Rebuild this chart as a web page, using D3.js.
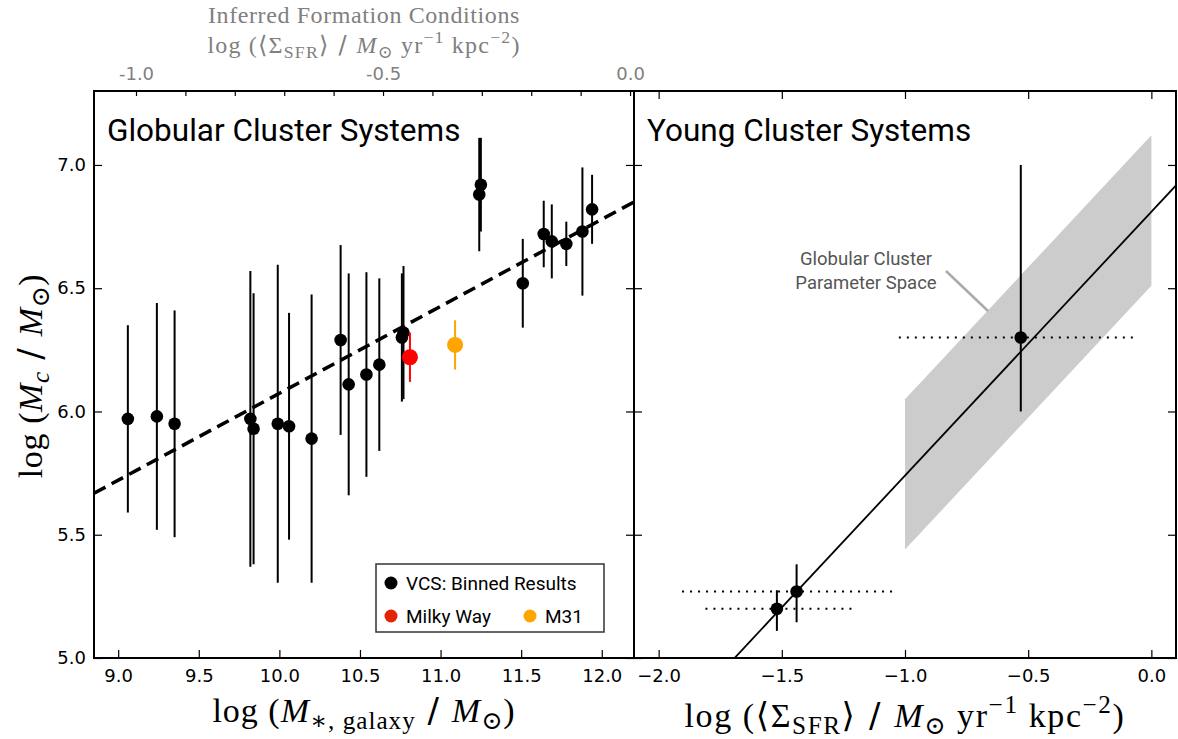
<!DOCTYPE html>
<html>
<head>
<meta charset="utf-8">
<script src="https://cdn.jsdelivr.net/npm/d3@7"></script>
<style>
  html, body { margin: 0; padding: 0; background: #fff; }
  svg { display: block; }
</style>
</head>
<body>
<svg id="chart" width="1178" height="739"></svg>
<script>
// ---- Globular cluster systems (binned VCS results) ----
const gcMass   = [9.06, 9.24, 9.35, 9.82, 9.84, 9.99, 10.06, 10.20, 10.38, 10.43, 10.54, 10.62,
                  10.76, 10.77, 11.24, 11.25, 11.51, 11.64, 11.69, 11.78, 11.88, 11.94];
const gcLogMc  = [5.97, 5.98, 5.95, 5.97, 5.93, 5.95, 5.94, 5.89, 6.29, 6.11, 6.15, 6.19,
                  6.30, 6.32, 6.88, 6.92, 6.52, 6.72, 6.69, 6.68, 6.73, 6.82];
const gcErr    = [0.38, 0.46, 0.46, 0.60, 0.55, 0.645, 0.46, 0.585, 0.385, 0.45, 0.415, 0.35,
                  0.26, 0.27, 0.23, 0.19, 0.18, 0.135, 0.15, 0.09, 0.26, 0.14];

// Local galaxies
const localNames = ["Milky Way", "M31"];
const localMass  = [10.81, 11.09];
const localLogMc = [6.22, 6.27];
const localErr   = [0.10, 0.10];

// Dashed relation across the mass range
const gcFitX = [8.85, 12.2];
const gcFitY = [5.668, 6.85];

// ---- Young cluster systems ----
const ycSfr    = [-1.52, -1.44, -0.53];
const ycSfrLo  = [-1.81, -1.905, -1.025];
const ycSfrHi  = [-1.20, -1.05, -0.075];
const ycLogMc  = [5.20, 5.27, 6.30];
const ycMcLo   = [5.11, 5.145, 6.00];
const ycMcHi   = [5.275, 5.38, 7.00];

// Young cluster relation: log Mc = intercept + slope * log SFR
const ycFitIntercept = 6.81;
const ycFitSlope = 1.07;

// Globular-cluster parameter space band
const bandX  = [-1.0, 0.0];
const bandLo = [5.44, 6.51];
const bandHi = [6.05, 7.12];

// Tick labels
const yTicks       = [5.0, 5.5, 6.0, 6.5, 7.0];
const massTicks    = [9.0, 9.5, 10.0, 10.5, 11.0, 11.5, 12.0];
const sfrTicks     = [-2.0, -1.5, -1.0, -0.5, 0.0];
const topTicks     = [-1.0, -0.9, -0.8, -0.7, -0.6, -0.5, -0.4, -0.3, -0.2, -0.1, 0.0];
const topTickLabels = [-1.0, -0.5, 0.0];

// ---- layout ----
const svg = d3.select("#chart");
const plotTop = 91, plotBottom = 658;
const leftL = 94, rightL = 634, leftR = 634, rightR = 1176;

const y  = d3.scaleLinear().domain([5.0, 7.3]).range([plotBottom, plotTop]);
const xL = d3.scaleLinear().domain([8.85, 12.2]).range([leftL, rightL]);
const xT = d3.scaleLinear().domain([-1.085, 0.008]).range([leftL, rightL]);
const xR = d3.scaleLinear().domain([-2.1, 0.1]).range([leftR, rightR]);

const tickFont = "'DejaVu Sans', 'Bitstream Vera Sans', sans-serif";
const serif = "'Liberation Serif', 'DejaVu Serif', serif";
const titleFont = "Roboto, 'Open Sans', sans-serif";

function styleAxis(g, color) {
  g.select(".domain").remove();
  g.selectAll(".tick line").attr("stroke", "#000").attr("stroke-width", 1.2);
  g.selectAll(".tick text").attr("font-family", tickFont).attr("font-size", 18)
    .attr("fill", color || "#000");
}

// Math-style label built from tspans
function mathLabel(parent, x, yPos, parts, size, color, rotate, spacing) {
  const t = parent.append("text")
    .attr("x", x).attr("y", yPos)
    .attr("text-anchor", "middle")
    .attr("font-family", serif)
    .attr("font-size", size)
    .attr("letter-spacing", spacing || 0)
    .attr("fill", color || "#000");
  if (rotate) t.attr("transform", `rotate(-90,${x},${yPos})`);
  let shift = 0;
  parts.forEach(p => {
    const s = t.append("tspan").text(p.t);
    let target = 0;
    if (p.sub) target = size * 0.22;
    if (p.sup) target = -size * 0.4;
    s.attr("dy", target - shift);
    shift = target;
    if (p.sub || p.sup) s.attr("font-size", size * 0.74);
    if (p.i) s.attr("font-style", "italic");
    if (p.f) s.attr("font-family", p.f);
  });
  return t;
}

// ---- clip paths ----
const defs = svg.append("defs");
defs.append("clipPath").attr("id", "clipL").append("rect")
  .attr("x", leftL).attr("y", plotTop).attr("width", rightL - leftL).attr("height", plotBottom - plotTop);
defs.append("clipPath").attr("id", "clipR").append("rect")
  .attr("x", leftR).attr("y", plotTop).attr("width", rightR - leftR).attr("height", plotBottom - plotTop);

// =================== LEFT PANEL ===================
const gL = svg.append("g");
const plotL = gL.append("g").attr("clip-path", "url(#clipL)");

// dashed relation
plotL.append("line")
  .attr("x1", xL(gcFitX[0])).attr("y1", y(gcFitY[0]))
  .attr("x2", xL(gcFitX[1])).attr("y2", y(gcFitY[1]))
  .attr("stroke", "#000").attr("stroke-width", 3.5).attr("stroke-dasharray", "13,7");

// error bars
gcMass.forEach((m, i) => {
  plotL.append("line")
    .attr("x1", xL(m)).attr("x2", xL(m))
    .attr("y1", y(gcLogMc[i] - gcErr[i])).attr("y2", y(gcLogMc[i] + gcErr[i]))
    .attr("stroke", "#000").attr("stroke-width", 2);
});
gcMass.forEach((m, i) => {
  plotL.append("circle").attr("cx", xL(m)).attr("cy", y(gcLogMc[i])).attr("r", 6.3).attr("fill", "#000");
});

const localColors = ["#ff0000", "#ffa500"];
localMass.forEach((m, i) => {
  plotL.append("line")
    .attr("x1", xL(m)).attr("x2", xL(m))
    .attr("y1", y(localLogMc[i] - localErr[i])).attr("y2", y(localLogMc[i] + localErr[i]))
    .attr("stroke", localColors[i]).attr("stroke-width", 2);
  plotL.append("circle").attr("cx", xL(m)).attr("cy", y(localLogMc[i])).attr("r", 8).attr("fill", localColors[i]);
});

// axes (left panel)
gL.append("g").attr("transform", `translate(0,${plotBottom})`)
  .call(d3.axisBottom(xL).tickValues(massTicks).tickSize(-8).tickPadding(11).tickFormat(d3.format(".1f")))
  .call(g => styleAxis(g));
gL.append("g").attr("transform", `translate(${leftL},0)`)
  .call(d3.axisLeft(y).tickValues(yTicks).tickSize(-8).tickPadding(8).tickFormat(d3.format(".1f")))
  .call(g => styleAxis(g));
gL.append("g").attr("transform", `translate(${rightL},0)`)
  .call(d3.axisRight(y).tickValues(yTicks).tickSize(-8).tickFormat(""))
  .call(g => styleAxis(g));
gL.append("g").attr("transform", `translate(0,${plotTop})`)
  .call(d3.axisTop(xT).tickValues(topTicks).tickSize(-5).tickPadding(11)
    .tickFormat(d => topTickLabels.some(v => Math.abs(v - d) < 1e-9) ? d.toFixed(1) : ""))
  .call(g => styleAxis(g, "#808080"));

gL.append("rect").attr("x", leftL).attr("y", plotTop).attr("width", rightL - leftL).attr("height", plotBottom - plotTop)
  .attr("fill", "none").attr("stroke", "#000").attr("stroke-width", 2);

gL.append("text").attr("x", 107).attr("y", 141)
  .attr("font-family", titleFont).attr("font-size", 31.5).attr("fill", "#000")
  .text("Globular Cluster Systems");

// legend
const lg = gL.append("g");
lg.append("rect").attr("x", 376).attr("y", 564).attr("width", 228).attr("height", 68)
  .attr("fill", "#fff").attr("stroke", "#333").attr("stroke-width", 1.5);
const legendItems = [
  { label: "VCS: Binned Results", color: "#000", x: 391, y: 583 },
  { label: localNames[0], color: "#e22400", x: 391, y: 616 },
  { label: localNames[1], color: "#ffa500", x: 530, y: 616 }
];
legendItems.forEach(d => {
  lg.append("circle").attr("cx", d.x).attr("cy", d.y).attr("r", 6.5).attr("fill", d.color);
  lg.append("text").attr("x", d.x + 15).attr("y", d.y + 7)
    .attr("font-family", titleFont).attr("font-size", 19).attr("fill", "#000").text(d.label);
});

// =================== RIGHT PANEL ===================
const gR = svg.append("g");
const plotR = gR.append("g").attr("clip-path", "url(#clipR)");

// parameter-space band
const bandPts = [
  [bandX[0], bandLo[0]], [bandX[1], bandLo[1]], [bandX[1], bandHi[1]], [bandX[0], bandHi[0]]
];
plotR.append("path")
  .attr("d", d3.line().x(d => xR(d[0])).y(d => y(d[1]))(bandPts) + "Z")
  .attr("fill", "#cccccc");

// fitted relation
const fitXs = xR.domain();
plotR.append("line")
  .attr("x1", xR(fitXs[0])).attr("y1", y(ycFitIntercept + ycFitSlope * fitXs[0]))
  .attr("x2", xR(fitXs[1])).attr("y2", y(ycFitIntercept + ycFitSlope * fitXs[1]))
  .attr("stroke", "#000").attr("stroke-width", 1.8);

// error bars
ycSfr.forEach((s, i) => {
  plotR.append("line")
    .attr("x1", xR(ycSfrLo[i])).attr("x2", xR(ycSfrHi[i]))
    .attr("y1", y(ycLogMc[i])).attr("y2", y(ycLogMc[i]))
    .attr("stroke", "#000").attr("stroke-width", 2).attr("stroke-dasharray", "2,6");
  plotR.append("line")
    .attr("x1", xR(s)).attr("x2", xR(s))
    .attr("y1", y(ycMcLo[i])).attr("y2", y(ycMcHi[i]))
    .attr("stroke", "#000").attr("stroke-width", 2);
  plotR.append("circle").attr("cx", xR(s)).attr("cy", y(ycLogMc[i])).attr("r", 6.3).attr("fill", "#000");
});

// annotation
gR.append("line").attr("x1", 946).attr("y1", 271).attr("x2", 988).attr("y2", 311)
  .attr("stroke", "#aaaaaa").attr("stroke-width", 2.5);
const ann = gR.append("text").attr("x", 866).attr("y", 265)
  .attr("text-anchor", "middle").attr("font-family", titleFont).attr("font-size", 18.5).attr("fill", "#555");
ann.append("tspan").attr("x", 866).attr("dy", 0).text("Globular Cluster");
ann.append("tspan").attr("x", 866).attr("dy", 23.5).text("Parameter Space");

// axes (right panel)
gR.append("g").attr("transform", `translate(0,${plotBottom})`)
  .call(d3.axisBottom(xR).tickValues(sfrTicks).tickSize(-8).tickPadding(11).tickFormat(d3.format(".1f")))
  .call(g => styleAxis(g));
gR.append("g").attr("transform", `translate(0,${plotTop})`)
  .call(d3.axisTop(xR).tickValues(sfrTicks).tickSize(-8).tickFormat(""))
  .call(g => styleAxis(g));
gR.append("g").attr("transform", `translate(${leftR},0)`)
  .call(d3.axisLeft(y).tickValues(yTicks).tickSize(-8).tickFormat(""))
  .call(g => styleAxis(g));
gR.append("g").attr("transform", `translate(${rightR},0)`)
  .call(d3.axisRight(y).tickValues(yTicks).tickSize(-8).tickFormat(""))
  .call(g => styleAxis(g));

gR.append("rect").attr("x", leftR).attr("y", plotTop).attr("width", rightR - leftR).attr("height", plotBottom - plotTop)
  .attr("fill", "none").attr("stroke", "#000").attr("stroke-width", 2);

gR.append("text").attr("x", 647).attr("y", 141)
  .attr("font-family", titleFont).attr("font-size", 31.5).attr("fill", "#000")
  .text("Young Cluster Systems");

// =================== AXIS TITLES ===================
const slash = "'DejaVu Sans', sans-serif";
mathLabel(svg, 42, 376, [
  { t: "log (" }, { t: "M", i: true }, { t: "c", i: true, sub: true },
  { t: " / ", f: slash }, { t: "M", i: true }, { t: "⊙", sub: true }, { t: ")" }
], 34, "#000", true, 0.6);

mathLabel(svg, 364, 722, [
  { t: "log (" }, { t: "M", i: true }, { t: "∗, galaxy", sub: true },
  { t: " / ", f: slash }, { t: "M", i: true }, { t: "⊙", sub: true }, { t: ")" }
], 34, "#000", false, 1);

mathLabel(svg, 905, 727, [
  { t: "log (⟨Σ" }, { t: "SFR", sub: true }, { t: "⟩" },
  { t: " / ", f: slash }, { t: "M", i: true }, { t: "⊙", sub: true }, { t: " yr" },
  { t: "−1", sup: true }, { t: " kpc" }, { t: "−2", sup: true }, { t: ")" }
], 34, "#000", false, 1.6);

// secondary (top) axis title
svg.append("text").attr("x", 364).attr("y", 23).attr("text-anchor", "middle")
  .attr("font-family", serif).attr("font-size", 24).attr("letter-spacing", 0.6).attr("fill", "#808080")
  .text("Inferred Formation Conditions");
mathLabel(svg, 364, 53, [
  { t: "log (⟨Σ" }, { t: "SFR", sub: true }, { t: "⟩" },
  { t: " / ", f: slash }, { t: "M", i: true }, { t: "⊙", sub: true }, { t: " yr" },
  { t: "−1", sup: true }, { t: " kpc" }, { t: "−2", sup: true }, { t: ")" }
], 24, "#808080", false, 1.2);
</script>
</body>
</html>
